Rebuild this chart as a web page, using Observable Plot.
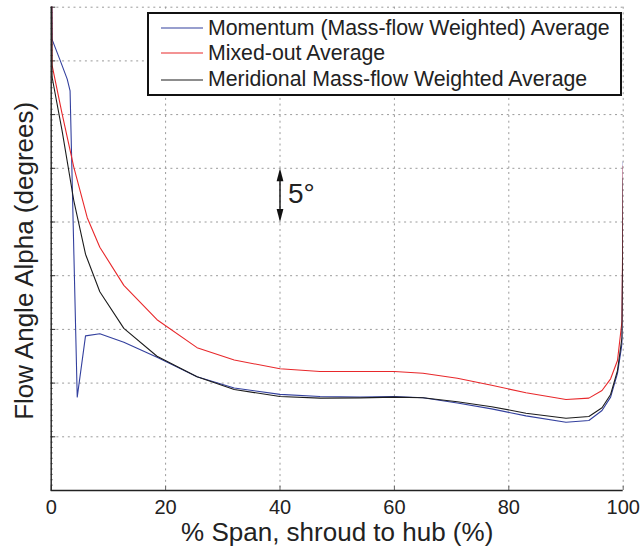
<!DOCTYPE html>
<html><head><meta charset="utf-8">
<script src="https://cdn.jsdelivr.net/npm/d3@7"></script>
<script src="https://cdn.jsdelivr.net/npm/@observablehq/plot@0.6"></script>
<style>
body{margin:0;background:#fff;font-family:"Liberation Sans",Arial,sans-serif;}
#wrap{position:relative;width:641px;height:550px;}
#legend{position:absolute;left:147px;top:12px;width:475px;height:84px;border:2px solid #111;background:#fff;box-sizing:border-box;}
.row{position:absolute;left:0;height:26px;display:flex;align-items:center;font-size:21.3px;color:#222;white-space:nowrap;}
.row svg{margin-left:12px;margin-right:5px;}
</style></head><body><div id="wrap"><div id="legend"></div></div>
<script>
// Series names
const seriesNames = ["Momentum (Mass-flow Weighted) Average", "Mixed-out Average", "Meridional Mass-flow Weighted Average"];
const seriesColors = ["#33409e", "#e8282b", "#1c1c1c"];

// Momentum (mass-flow weighted) average
const momX = [0, 0.15, 1.6, 2.8, 3.3, 4.55, 6.0, 8.5, 12.7, 18.5, 25.5, 32, 40, 47, 54, 60, 65, 71, 77, 83, 90, 94, 96.3, 97.8, 99, 99.8, 100];
const momY = [55, 42.0, 40.0, 38.3, 37.2, 8.7, 14.4, 14.6, 13.8, 12.4, 10.6, 9.55, 8.95, 8.75, 8.7, 8.75, 8.63, 8.15, 7.6, 6.95, 6.36, 6.52, 7.45, 8.69, 10.9, 13.7, 30.6];

// Mixed-out average
const mixX = [0, 0.15, 1.9, 3.95, 6.3, 8.5, 12.7, 18.5, 25.5, 32, 40, 47, 54, 60, 65, 71, 77, 83, 90, 94, 96.3, 97.8, 99, 99.8, 100];
const mixY = [55, 39.6, 35.1, 30.1, 25.4, 22.65, 19.1, 15.9, 13.3, 12.15, 11.33, 11.08, 11.08, 11.08, 10.92, 10.45, 9.8, 9.1, 8.47, 8.6, 9.31, 10.4, 12.1, 15.8, 30.2];

// Meridional mass-flow weighted average
const merX = [0, 0.15, 1.9, 3.95, 6.0, 8.5, 12.7, 18.5, 25.5, 32, 40, 47, 54, 60, 65, 71, 77, 83, 90, 94, 96.3, 97.8, 99, 99.8, 100];
const merY = [55, 38.5, 33.5, 27.0, 22.0, 18.5, 15.1, 12.5, 10.6, 9.4, 8.75, 8.6, 8.62, 8.69, 8.63, 8.27, 7.8, 7.2, 6.73, 6.89, 7.7, 8.94, 11.17, 14.27, 29.05];

// Axes
const xTicks = [0, 20, 40, 60, 80, 100];
const xGrid = [20, 40, 60, 80, 100];
const yTicks = [0, 5, 10, 15, 20, 25, 30, 35, 40, 45];
const yGrid = [5, 10, 15, 20, 25, 30, 35, 40, 45];
const yMinor = d3.range(0, 45.01, 0.5);
const xLabel = "% Span, shroud to hub (%)";
const yLabel = "Flow Angle Alpha (degrees)";

// Scale annotation
const annX = [40];
const annLo = [25];
const annHi = [30];
const annText = ["5°"];
const annTextY = [27.6];

const toRows = (xs, ys, s) => xs.map((x, i) => ({x, y: ys[i], s}));
const mom = toRows(momX, momY, seriesNames[0]);
const mix = toRows(mixX, mixY, seriesNames[1]);
const mer = toRows(merX, merY, seriesNames[2]);

const headUp = {draw(ctx){ ctx.moveTo(0,0); ctx.lineTo(3.4,13); ctx.lineTo(-3.4,13); ctx.closePath(); }};
const headDown = {draw(ctx){ ctx.moveTo(0,0); ctx.lineTo(3.4,-13); ctx.lineTo(-3.4,-13); ctx.closePath(); }};

const chart = Plot.plot({
  width: 641, height: 550,
  marginLeft: 50.7, marginRight: 18.3, marginTop: 6.7, marginBottom: 60,
  x: {domain: [0, 100], axis: null},
  y: {domain: [0, 45], axis: null},
  style: {fontFamily: "'Liberation Sans', Arial, sans-serif", background: "white", color: "#222"},
  marks: [
    Plot.gridX(xGrid, {stroke: "#9a9a9a", strokeOpacity: 1, strokeWidth: 1, strokeDasharray: "2,3.7"}),
    Plot.gridY(yGrid, {stroke: "#9a9a9a", strokeOpacity: 1, strokeWidth: 1, strokeDasharray: "2,3.7"}),
    Plot.ruleY(yMinor, {x1: 0, x2: 0.35, stroke: "#444", strokeWidth: 0.8}),
    Plot.ruleY(yTicks, {x1: 0, x2: 0.8, stroke: "#333", strokeWidth: 1}),
    Plot.ruleX(xTicks, {y1: 0, y2: 0.4, stroke: "#666", strokeWidth: 1}),
    Plot.line(mom, {x: "x", y: "y", stroke: seriesColors[0], strokeWidth: 1.1, clip: true}),
    Plot.line(mix, {x: "x", y: "y", stroke: seriesColors[1], strokeWidth: 1.1, clip: true}),
    Plot.line(mer, {x: "x", y: "y", stroke: seriesColors[2], strokeWidth: 1.1, clip: true}),
    Plot.ruleX([0], {stroke: "#222", strokeWidth: 1.4}),
    Plot.ruleY([0], {stroke: "#222", strokeWidth: 1.4}),
    Plot.ruleX(annX, {y1: (d, i) => annLo[i] + 0.5, y2: (d, i) => annHi[i] - 0.5, stroke: "#111", strokeWidth: 1.4}),
    Plot.dot(annX, {x: d => d, y: (d, i) => annHi[i], symbol: headUp, fill: "#111", stroke: "none"}),
    Plot.dot(annX, {x: d => d, y: (d, i) => annLo[i], symbol: headDown, fill: "#111", stroke: "none"}),
    Plot.text(annText, {x: (d, i) => annX[i], y: (d, i) => annTextY[i], text: d => d, dx: 8, textAnchor: "start", fontSize: 28, fill: "#222"}),
    Plot.text(xTicks, {x: d => d, text: d => String(d), frameAnchor: "bottom", dy: 17.5, lineAnchor: "middle", fontSize: 20, fill: "#222"}),
    Plot.text([xLabel], {frameAnchor: "bottom", dy: 42, textAnchor: "middle", lineAnchor: "middle", fontSize: 26, fill: "#222"}),
    Plot.text([yLabel], {frameAnchor: "left", rotate: -90, dx: -27, dy: 12, textAnchor: "middle", lineAnchor: "middle", fontSize: 26, fill: "#222"})
  ]
});
const wrap = document.getElementById("wrap");
wrap.insertBefore(chart, wrap.firstChild);

const legend = document.getElementById("legend");
const rowTops = [1, 26, 52.5];
seriesNames.forEach((name, i) => {
  const row = document.createElement("div");
  row.className = "row";
  row.style.top = rowTops[i] + "px";
  row.innerHTML = `<svg width="42" height="4"><line x1="0" y1="2" x2="42" y2="2" stroke="${seriesColors[i]}" stroke-width="1.2"/></svg><span>${name}</span>`;
  legend.appendChild(row);
});
</script>
</body></html>
